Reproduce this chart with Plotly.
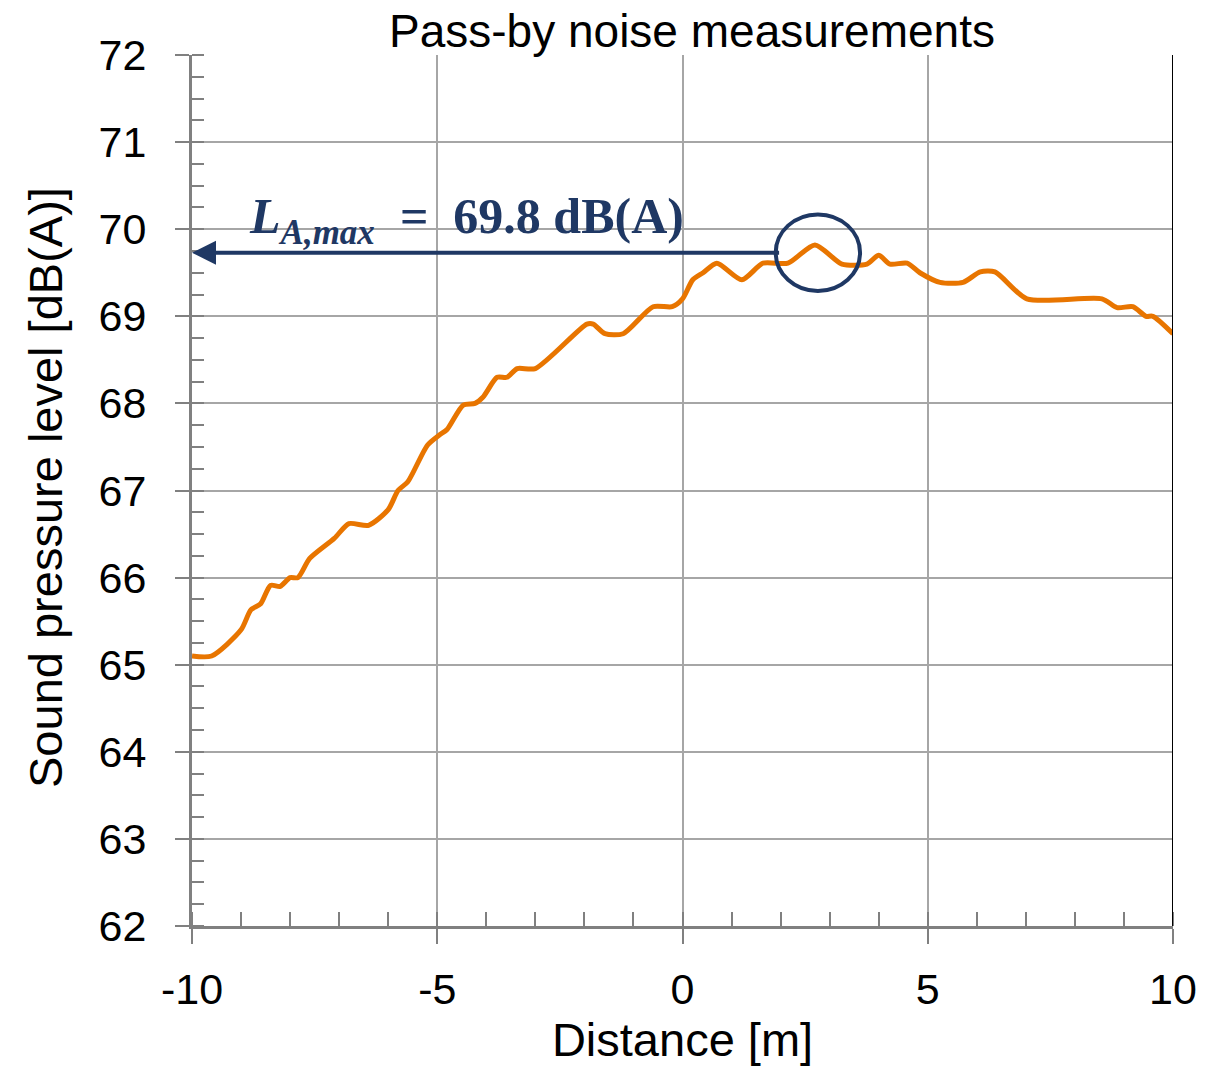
import plotly.graph_objects as go

distance = [-10, -9.6, -9.0, -8.8, -8.6, -8.4, -8.2, -8.0, -7.84, -7.6, -7.1, -6.8, -6.4, -6.0,
            -5.8, -5.6, -5.2, -4.95, -4.8, -4.47, -4.23, -4.07, -3.78, -3.58, -3.37, -3.0,
            -1.95, -1.82, -1.58, -1.21, -0.6, -0.21, 0.0, 0.21, 0.42, 0.7, 1.21, 1.64, 2.15,
            2.7, 3.25, 3.76, 4.0, 4.23, 4.58, 4.84, 5.25, 5.72, 6.07, 6.37, 7.02, 8.55, 8.86,
            9.18, 9.45, 9.59, 10]
spl = [65.1, 65.1, 65.4, 65.63, 65.7, 65.91, 65.9, 66.0, 66.0, 66.22, 66.45, 66.62, 66.6, 66.78,
       67.0, 67.1, 67.52, 67.64, 67.7, 67.98, 68.0, 68.07, 68.3, 68.3, 68.4, 68.4,
       68.91, 68.91, 68.8, 68.8, 69.11, 69.11, 69.2, 69.42, 69.5, 69.61, 69.42, 69.61, 69.61,
       69.82, 69.6, 69.6, 69.7, 69.6, 69.61, 69.5, 69.39, 69.39, 69.51, 69.51, 69.2, 69.2, 69.1,
       69.11, 69.0, 69.0, 68.8]

x_ticks = [-10, -5, 0, 5, 10]
y_ticks = [62, 63, 64, 65, 66, 67, 68, 69, 70, 71, 72]
lmax = 69.8
arrow_level = 69.73
arrow_from = 2.0
peak_x = 2.76

navy = "#1F3864"
orange = "#E87500"
grid = "#A6A6A6"
axis_col = "#808080"

W, H = 1208, 1059
ML, MR, MT, MB = 184, 43, 47, 141
PW, PH = W - ML - MR, H - MT - MB

fig = go.Figure()
fig.add_trace(go.Scatter(x=distance, y=spl, mode="lines",
                         line=dict(color=orange, width=5, shape="spline", smoothing=0.7),
                         showlegend=False))

fig.update_layout(
    width=W, height=H,
    margin=dict(l=ML, r=MR, t=MT, b=MB, autoexpand=False),
    paper_bgcolor="white", plot_bgcolor="white",
    font=dict(family="Liberation Sans, Arial", size=43, color="black"),
    title=dict(text="Pass-by noise measurements", x=684 / W, xanchor="center", xref="container",
               y=1 - 23 / H, yanchor="middle", yref="container", font=dict(size=46)),
    xaxis=dict(range=[-10, 10], tickvals=x_ticks, ticktext=[str(v) for v in x_ticks],
               showgrid=True, gridcolor=grid, gridwidth=2,
               showline=True, linecolor=axis_col, linewidth=3,
               ticks="outside", ticklen=15, tickwidth=2, tickcolor=axis_col,
               ticklabelstandoff=8, zeroline=False,
               minor=dict(dtick=1, ticks="inside", ticklen=14, tickwidth=2,
                          tickcolor=axis_col, showgrid=False),
               title=dict(text="Distance [m]", font=dict(size=47), standoff=2)),
    yaxis=dict(range=[62, 72], tickvals=y_ticks, ticktext=[str(v) for v in y_ticks],
               showgrid=True, gridcolor=grid, gridwidth=2,
               showline=True, linecolor=axis_col, linewidth=3,
               ticks="outside", ticklen=14, tickwidth=2, tickcolor=axis_col,
               ticklabelstandoff=20, zeroline=False,
               minor=dict(dtick=0.25, ticks="inside", ticklen=12, tickwidth=2,
                          tickcolor=axis_col, showgrid=False)),
)

# y-axis title placed as rotated text
fig.add_annotation(text="Sound pressure level [dB(A)]", textangle=-90, showarrow=False,
                   xref="paper", yref="paper", x=(37 - ML) / PW, y=(H - MB - 480) / PH,
                   xanchor="center", yanchor="middle", font=dict(size=47))

# right border
fig.add_shape(type="line", x0=10, x1=10, y0=62, y1=72, xref="x", yref="y",
              line=dict(color="black", width=2))

# ellipse around peak
fig.add_shape(type="circle", xref="x", yref="y",
              x0=peak_x - 0.86, x1=peak_x + 0.86, y0=arrow_level - 0.44, y1=arrow_level + 0.44,
              line=dict(color=navy, width=4))

# arrow
fig.add_annotation(x=-10, y=arrow_level, ax=arrow_from, ay=arrow_level,
                   xref="x", yref="y", axref="x", ayref="y", text="",
                   showarrow=True, arrowhead=2, arrowsize=1.2, arrowwidth=4, arrowcolor=navy)

fig.add_annotation(x=-4.41, y=70.1, xref="x", yref="y", showarrow=False,
                   text="<b><i>L</i><sub><i>A,max</i></sub>  =  " + f"{lmax}" + " dB(A)</b>",
                   font=dict(family="Liberation Serif, DejaVu Serif", size=50, color=navy))

fig.write_html("out.html")
